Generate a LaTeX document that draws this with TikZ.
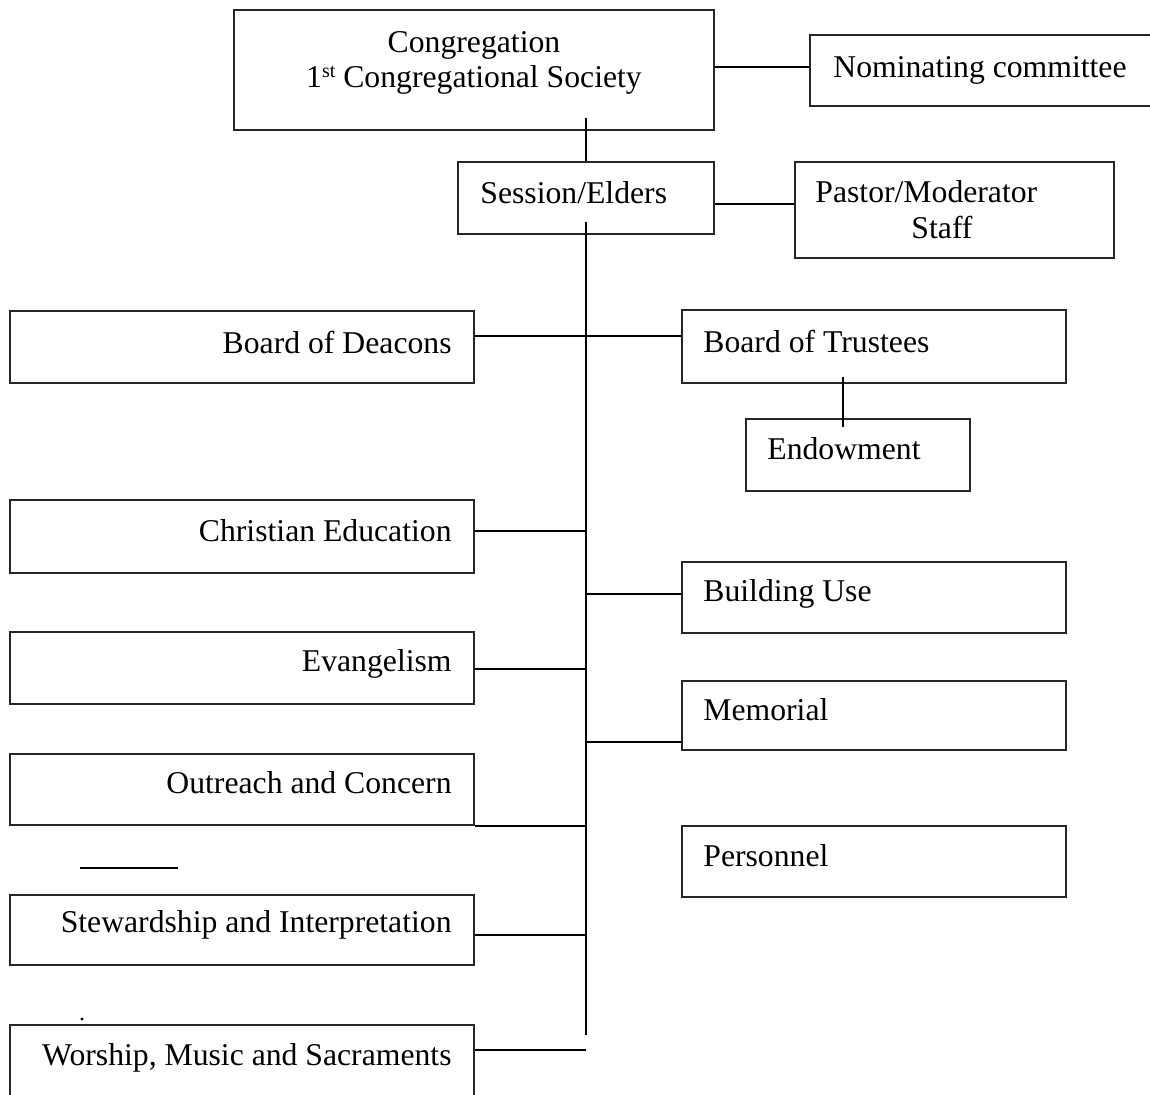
\documentclass[tikz,border=0pt]{standalone}
\usepackage{fontspec}
\setmainfont{Liberation Serif}
\usetikzlibrary{fit}
\begin{document}
\begin{tikzpicture}[x=0.5pt,y=-0.5pt,
  box/.style={draw=black!85, line width=0.75pt, inner sep=0pt, rectangle},
  lbl/.style={inner sep=0pt, font=\fontsize{15.85}{15}\selectfont},
  conn/.style={draw=black, line width=1pt}]
\useasboundingbox (0,0) rectangle (1150,1094);
% boxes
\node[box, fit={(234,10) (714,130)}] (cong) {};
\node[box, fit={(810,35) (1165,106)}] (nom) {};
\node[box, fit={(458,162) (714,234)}] (sess) {};
\node[box, fit={(795,162) (1114,258)}] (past) {};
\node[box, fit={(10,311) (474,383)}] (dea) {};
\node[box, fit={(682,310) (1066,383)}] (tru) {};
\node[box, fit={(746,419) (970,491)}] (endw) {};
\node[box, fit={(10,500) (474,573)}] (ced) {};
\node[box, fit={(682,562) (1066,633)}] (bld) {};
\node[box, fit={(10,632) (474,704)}] (evg) {};
\node[box, fit={(682,681) (1066,750)}] (mem) {};
\node[box, fit={(10,754) (474,825)}] (out) {};
\node[box, fit={(682,826) (1066,897)}] (per) {};
\node[box, fit={(10,895) (474,965)}] (stw) {};
\node[box, fit={(10,1025) (474,1110)}] (wor) {};
% labels
\node[lbl, anchor=base] (congT1) at (474,52) {Congregation};
\node[lbl, anchor=base] (congT2) at (474,87) {1{\fontsize{10}{10}\selectfont\raisebox{0.5em}{st}} Congregational Society};
\node[lbl, anchor=base west] (nomT) at (833,77) {Nominating committee};
\node[lbl, anchor=base west] (sessT) at (480,203) {Session/Elders};
\node[lbl, anchor=base west] (pastT1) at (815,202) {Pastor/Moderator};
\node[lbl, anchor=base] (pastT2) at (942,238) {Staff};
\node[lbl, anchor=base east] (deaT) at (452,353) {Board of Deacons};
\node[lbl, anchor=base west] (truT) at (703,352) {Board of Trustees};
\node[lbl, anchor=base west] (endT) at (767,459) {Endowment};
\node[lbl, anchor=base east] (cedT) at (452,541) {Christian Education};
\node[lbl, anchor=base west] (bldT) at (703,601) {Building Use};
\node[lbl, anchor=base east] (evgT) at (452,671) {Evangelism};
\node[lbl, anchor=base west] (memT) at (703,720) {Memorial};
\node[lbl, anchor=base east] (outT) at (452,793) {Outreach and Concern};
\node[lbl, anchor=base west] (perT) at (703,866) {Personnel};
\node[lbl, anchor=base east] (stwT) at (452,932) {Stewardship and Interpretation};
\node[lbl, anchor=base east] (worT) at (452,1065) {Worship, Music and Sacraments};
% spine coordinates
\coordinate (c0) at (586,118);
\coordinate (s0) at (586,222);
\coordinate (sE) at (586,1035);
\coordinate (yDea) at (586,336);
\coordinate (yCed) at (586,531);
\coordinate (yBld) at (586,594);
\coordinate (yEvg) at (586,669);
\coordinate (yMem) at (586,742);
\coordinate (yOut) at (586,826);
\coordinate (yStw) at (586,935);
\coordinate (yWor) at (586,1050);
\coordinate (e0) at (843,377);
\coordinate (e1) at (843,427);
\coordinate (la) at (80,868);
\coordinate (lb) at (178,868);
% connectors
\draw[conn] (cong.east |- 0,67) -- (nom.west |- 0,67);
\draw[conn] (c0) -- (sess.north -| c0);
\draw[conn] (sess.east |- 0,204) -- (past.west |- 0,204);
\draw[conn] (s0) -- (sE);
\draw[conn] (dea.east |- yDea) -- (tru.west |- yDea);
\draw[conn] (e0) -- (e1);
\draw[conn] (ced.east |- yCed) -- (yCed);
\draw[conn] (yBld) -- (bld.west |- yBld);
\draw[conn] (evg.east |- yEvg) -- (yEvg);
\draw[conn] (yMem) -- (mem.west |- yMem);
\draw[conn] (out.east |- yOut) -- (yOut);
\draw[conn] (stw.east |- yStw) -- (yStw);
\draw[conn] (wor.east |- yWor) -- (yWor);
\draw[conn] (la) -- (lb);
\fill (82,1019) circle (1.6);
\end{tikzpicture}
\end{document}
